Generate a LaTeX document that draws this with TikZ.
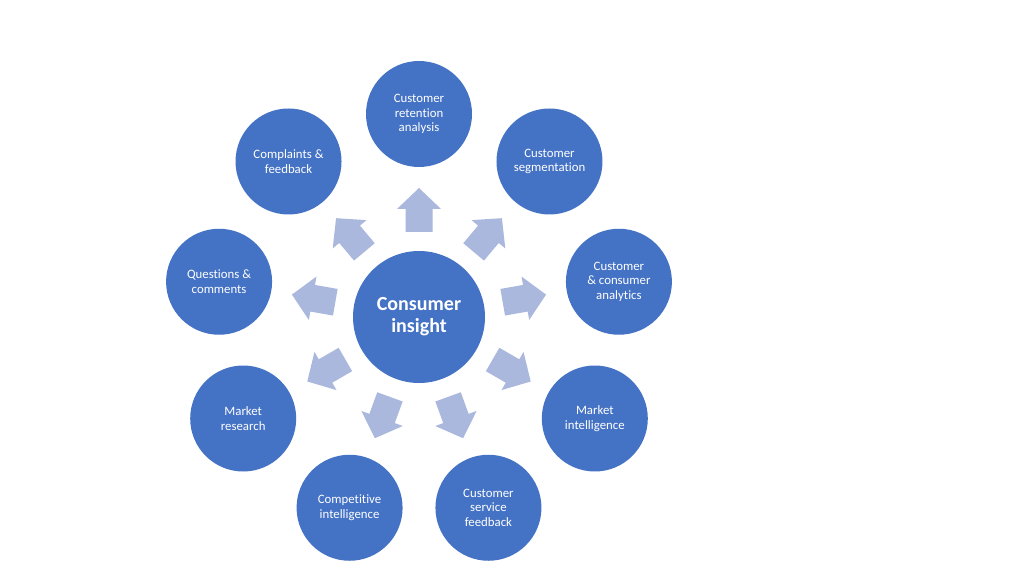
\documentclass[tikz,border=0pt]{standalone}
\usepackage{fontspec}
\setmainfont[Ligatures=NoCommon]{Carlito}
\usetikzlibrary{calc}
\definecolor{cblue}{HTML}{4472C4}
\definecolor{alight}{HTML}{ABB8DE}
\tikzset{
  x=1pt, y=1pt,
  hub/.style={circle, fill=cblue, draw=none, minimum size=132pt, inner sep=0pt, text=white, align=center, font=\fontsize{20}{22}\selectfont\bfseries},
  spoke/.style={circle, fill=cblue, draw=none, minimum size=106pt, inner sep=0pt, text=white, align=center, font=\fontsize{12.8}{14.5}\selectfont},
  blockarrow/.style={fill=alight, draw=none}
}
\begin{document}
\begin{tikzpicture}
\useasboundingbox (0,0) rectangle (1024,576);
\fill[white] (0,0) rectangle (1024,576);
\coordinate (c) at (419,259);
\node[hub] (hub) at (c) {Consumer\\insight};
\node[spoke] (n1) at ($(c)+(90:203)$) {Customer\\retention\\analysis};
\node[spoke] (n2) at ($(c)+(50:203)$) {Customer\\segmentation};
\node[spoke] (n3) at ($(c)+(10:203)$) {Customer\\\& consumer\\analytics};
\node[spoke] (n4) at ($(c)+(-30:203)$) {Market\\intelligence};
\node[spoke] (n5) at ($(c)+(-70:203)$) {Customer\\service\\feedback};
\node[spoke] (n6) at ($(c)+(-110:203)$) {Competitive\\intelligence};
\node[spoke] (n7) at ($(c)+(-150:203)$) {Market\\research};
\node[spoke] (n8) at ($(c)+(170:203)$) {Questions \&\\comments};
\node[spoke] (n9) at ($(c)+(130:203)$) {Complaints \&\\feedback};
\foreach \a in {90,50,10,-30,-70,-110,-150,170,130}{
  \begin{scope}[shift={(c)}, rotate=\a]
    \fill[blockarrow] (85,-13.5) -- (108,-13.5) -- (108,-22) -- (129,0) -- (108,22) -- (108,13.5) -- (85,13.5) -- cycle;
  \end{scope}
}
\end{tikzpicture}
\end{document}
